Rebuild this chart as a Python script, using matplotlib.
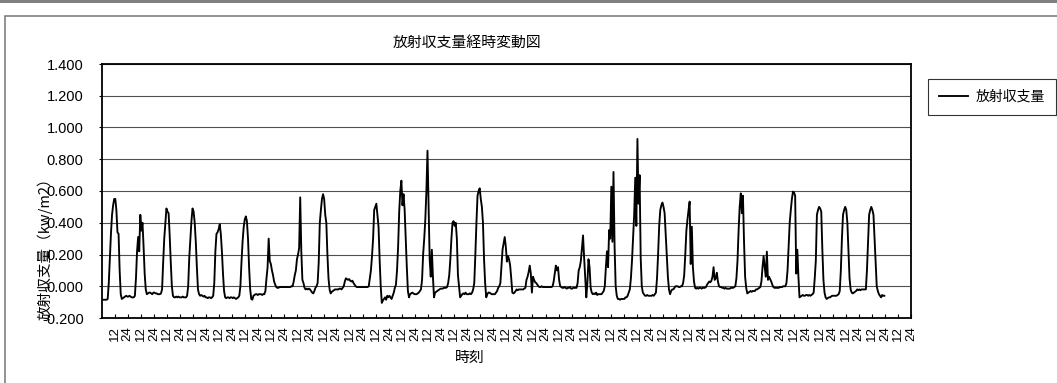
import numpy as np
import matplotlib
matplotlib.use('Agg')
import matplotlib.pyplot as plt
from matplotlib.patches import Rectangle

# hourly net radiation (kW/m2), one list per day
d01 = [-0.085, -0.085, -0.085, -0.085, -0.085, -0.08, 0.02, 0.18, 0.33, 0.45, 0.51, 0.55, 0.55, 0.48, 0.34, 0.33, 0.10, -0.05, -0.08, -0.075, -0.07, -0.065, -0.06, -0.065]
d02 = [-0.065, -0.06, -0.065, -0.07, -0.07, -0.07, -0.06, 0.05, 0.22, 0.31, 0.22, 0.45, 0.35, 0.40, 0.25, 0.08, -0.02, -0.05, -0.045, -0.04, -0.04, -0.045, -0.05, -0.04]
d03 = [-0.04, -0.045, -0.045, -0.05, -0.05, -0.05, -0.045, -0.02, 0.15, 0.30, 0.40, 0.49, 0.47, 0.46, 0.32, 0.15, 0.0, -0.06, -0.07, -0.07, -0.065, -0.07, -0.065, -0.07]
d04 = [-0.07, -0.07, -0.065, -0.07, -0.07, -0.07, -0.06, 0.0, 0.18, 0.30, 0.41, 0.49, 0.47, 0.40, 0.28, 0.12, -0.02, -0.05, -0.06, -0.055, -0.06, -0.065, -0.06, -0.07]
d05 = [-0.07, -0.075, -0.07, -0.07, -0.075, -0.07, -0.06, 0.02, 0.22, 0.33, 0.34, 0.36, 0.39, 0.33, 0.22, 0.08, -0.03, -0.07, -0.075, -0.07, -0.07, -0.075, -0.07, -0.07]
d06 = [-0.075, -0.07, -0.075, -0.08, -0.075, -0.07, -0.06, 0.0, 0.15, 0.28, 0.37, 0.42, 0.44, 0.41, 0.30, 0.12, -0.02, -0.08, -0.085, -0.06, -0.055, -0.05, -0.05, -0.055]
d07 = [-0.05, -0.05, -0.05, -0.055, -0.05, -0.05, -0.03, 0.05, 0.12, 0.30, 0.16, 0.14, 0.10, 0.07, 0.03, 0.01, -0.005, -0.01, -0.01, -0.005, -0.005, -0.005, -0.005, -0.005]
d08 = [-0.005, -0.005, -0.005, -0.005, -0.005, -0.005, 0.0, 0.0, 0.03, 0.07, 0.10, 0.17, 0.20, 0.24, 0.56, 0.22, 0.04, 0.02, -0.01, -0.02, -0.015, -0.02, -0.015, -0.02]
d09 = [-0.03, -0.04, -0.045, -0.03, -0.01, 0.0, 0.02, 0.15, 0.40, 0.48, 0.55, 0.58, 0.55, 0.45, 0.40, 0.20, 0.05, -0.02, -0.045, -0.035, -0.03, -0.025, -0.02, -0.02]
d10 = [-0.02, -0.02, -0.015, -0.015, -0.02, -0.01, 0.0, 0.03, 0.05, 0.045, 0.04, 0.045, 0.035, 0.03, 0.035, 0.02, 0.01, 0.0, -0.005, -0.005, -0.005, -0.005, -0.005, -0.005]
d11 = [-0.005, -0.005, -0.005, -0.005, -0.005, 0.0, 0.05, 0.10, 0.19, 0.30, 0.48, 0.50, 0.52, 0.45, 0.375, 0.17, 0.0, -0.105, -0.09, -0.08, -0.07, -0.085, -0.06, -0.07]
d12 = [-0.06, -0.07, -0.08, -0.06, -0.04, -0.01, 0.01, 0.10, 0.25, 0.47, 0.60, 0.665, 0.51, 0.58, 0.48, 0.30, 0.12, -0.03, -0.07, -0.05, -0.045, -0.04, -0.045, -0.05]
d13 = [-0.05, -0.05, -0.045, -0.04, -0.03, -0.02, 0.04, 0.20, 0.30, 0.42, 0.60, 0.854, 0.52, 0.17, 0.06, 0.23, 0.06, -0.07, -0.04, -0.035, -0.03, -0.025, -0.02, -0.015]
d14 = [-0.015, -0.015, -0.01, -0.01, -0.01, -0.005, 0.02, 0.07, 0.17, 0.30, 0.40, 0.41, 0.38, 0.40, 0.30, 0.07, 0.0, -0.07, -0.06, -0.05, -0.045, -0.05, -0.04, -0.05]
d15 = [-0.05, -0.05, -0.045, -0.05, -0.04, -0.02, 0.02, 0.20, 0.40, 0.57, 0.60, 0.617, 0.55, 0.50, 0.40, 0.17, 0.02, -0.07, -0.05, -0.04, -0.04, -0.045, -0.05, -0.05]
d16 = [-0.05, -0.05, -0.04, -0.03, -0.01, 0.0, 0.02, 0.12, 0.23, 0.27, 0.31, 0.25, 0.155, 0.19, 0.17, 0.13, 0.05, -0.04, -0.045, -0.04, -0.03, -0.02, -0.025, -0.02]
d17 = [-0.02, -0.02, -0.02, -0.02, -0.015, -0.01, 0.04, 0.06, 0.09, 0.13, 0.08, -0.04, 0.06, 0.04, 0.025, 0.02, 0.01, 0.0, -0.005, -0.005, 0.0, -0.005, -0.005, -0.005]
d18 = [-0.005, -0.005, -0.005, -0.005, -0.005, -0.005, 0.0, 0.03, 0.08, 0.13, 0.10, 0.12, 0.04, 0.0, -0.005, -0.01, -0.01, -0.005, -0.01, -0.015, -0.01, -0.01, -0.005, -0.015]
d19 = [-0.015, -0.01, -0.01, -0.01, -0.01, 0.02, 0.10, 0.12, 0.16, 0.24, 0.32, 0.18, 0.06, -0.07, 0.02, 0.17, 0.12, -0.01, -0.04, -0.05, -0.045, -0.05, -0.04, -0.055]
d20 = [-0.05, -0.05, -0.05, -0.05, -0.04, -0.03, 0.0, 0.12, 0.22, 0.12, 0.354, 0.30, 0.627, 0.28, 0.72, 0.25, 0.0, -0.06, -0.08, -0.08, -0.085, -0.08, -0.08, -0.08]
d21 = [-0.08, -0.07, -0.07, -0.06, -0.04, -0.02, 0.05, 0.16, 0.30, 0.45, 0.684, 0.38, 0.928, 0.52, 0.70, 0.18, 0.0, -0.04, -0.05, -0.06, -0.06, -0.055, -0.06, -0.06]
d22 = [-0.06, -0.06, -0.055, -0.06, -0.05, -0.04, 0.05, 0.20, 0.38, 0.48, 0.51, 0.527, 0.50, 0.46, 0.33, 0.19, 0.06, -0.02, -0.05, -0.03, -0.02, -0.02, -0.01, 0.0]
d23 = [0.0, 0.0, -0.005, -0.005, 0.0, 0.0, 0.02, 0.07, 0.20, 0.35, 0.42, 0.48, 0.533, 0.14, 0.375, 0.12, 0.03, -0.01, -0.015, -0.01, -0.015, -0.01, -0.01, -0.015]
d24 = [-0.01, -0.01, -0.01, -0.005, 0.01, 0.02, 0.03, 0.025, 0.035, 0.06, 0.12, 0.04, 0.05, 0.085, 0.03, 0.0, -0.005, -0.005, -0.01, -0.01, -0.015, -0.01, -0.015, -0.015]
d25 = [-0.015, -0.015, -0.01, -0.01, -0.01, -0.005, 0.0, 0.05, 0.16, 0.35, 0.50, 0.585, 0.46, 0.57, 0.28, 0.06, -0.01, -0.045, -0.04, -0.035, -0.03, -0.035, -0.03, -0.03]
d26 = [-0.03, -0.02, -0.02, -0.015, -0.01, -0.005, 0.03, 0.12, 0.19, 0.12, 0.06, 0.218, 0.04, 0.06, 0.045, 0.03, 0.01, -0.005, -0.01, -0.01, -0.01, -0.01, -0.01, -0.005]
d27 = [-0.005, -0.005, 0.0, 0.0, 0.0, 0.02, 0.10, 0.25, 0.40, 0.48, 0.55, 0.596, 0.59, 0.57, 0.08, 0.23, 0.06, -0.07, -0.065, -0.06, -0.055, -0.06, -0.06, -0.055]
d28 = [-0.055, -0.06, -0.055, -0.06, -0.055, -0.05, -0.04, 0.05, 0.16, 0.45, 0.48, 0.50, 0.49, 0.47, 0.23, 0.04, -0.04, -0.07, -0.08, -0.075, -0.07, -0.07, -0.065, -0.06]
d29 = [-0.06, -0.06, -0.06, -0.06, -0.055, -0.05, -0.03, 0.10, 0.30, 0.45, 0.48, 0.50, 0.48, 0.40, 0.22, 0.05, -0.02, -0.04, -0.045, -0.04, -0.035, -0.03, -0.02, -0.025]
d30 = [-0.02, -0.025, -0.02, -0.02, -0.02, -0.02, -0.02, 0.10, 0.28, 0.45, 0.48, 0.50, 0.48, 0.45, 0.30, 0.16, 0.0, -0.03, -0.05, -0.06, -0.07, -0.055, -0.06, -0.06]

days = [d01, d02, d03, d04, d05, d06, d07, d08, d09, d10, d11, d12, d13, d14, d15,
        d16, d17, d18, d19, d20, d21, d22, d23, d24, d25, d26, d27, d28, d29, d30]
values = np.concatenate(days)

n_axis_days = 31          # category axis runs one day past the data
hour_labels = ['12', '24']

JP = ['Noto Sans CJK JP', 'DejaVu Sans']
plt.rcParams['font.family'] = ['Liberation Sans', 'Noto Sans CJK JP', 'DejaVu Sans']

W, H = 1057, 383
fig = plt.figure(figsize=(W / 100, H / 100), dpi=100)
fig.patch.set_facecolor('white')

# chart-area frame + top strip
fig.add_artist(Rectangle((5 / W, -0.01), 1.0, 1 - 16 / H + 0.01, transform=fig.transFigure,
                         fill=False, edgecolor='#808080', linewidth=1.2))
fig.add_artist(Rectangle((0, 1 - 3 / H), 1, 3 / H, transform=fig.transFigure,
                         facecolor='#808080', edgecolor='none'))

ax = fig.add_axes([101.7 / W, 1 - 318 / H, (911 - 101.7) / W, (318 - 64) / H])

x = np.arange(len(values)) + 0.5
ax.plot(x, values, color='black', linewidth=1.35, label='放射収支量')

ax.set_xlim(0, n_axis_days * 24)
ax.set_ylim(-0.2, 1.4)
yt = np.arange(-0.2, 1.41, 0.2)
ax.set_yticks(yt)
ax.set_yticklabels([f'{v:.3f}' for v in yt], fontsize=10.5)
ax.yaxis.grid(True, color='#505050', linewidth=0.8)
ax.set_axisbelow(True)

xt = np.arange(12, n_axis_days * 24 + 1, 12)
ax.set_xticks(xt)
ax.set_xticklabels([hour_labels[i % 2] for i in range(len(xt))], rotation=90, fontsize=9.5)
ax.tick_params(axis='x', direction='in', length=3, pad=6)
ax.tick_params(axis='y', direction='out', length=2, pad=11)
for s in ax.spines.values():
    s.set_linewidth(1.3)

fig.text(467 / W, 1 - 43 / H, '放射収支量経時変動図', ha='center', va='center',
         fontsize=10.7, family=JP)
fig.text(470 / W, 1 - 358 / H, '時刻', ha='center', va='center', fontsize=10.7, family=JP)
# y label sits over the tick numbers, as in the source chart
fig.text(45 / W, 1 - 245 / H, '放射収支量（kw/m2）', ha='center', va='center',
         rotation=90, fontsize=10.5, family=JP)

leg = fig.legend(loc='center', bbox_to_anchor=(992 / W, 1 - 97 / H), frameon=True,
                 fancybox=False, edgecolor='black', prop={'family': JP, 'size': 10},
                 handlelength=2.1, handletextpad=0.5, borderpad=0.8, borderaxespad=0)
leg.get_frame().set_linewidth(0.8)

fig.savefig('out.png', dpi=100, facecolor='white')
